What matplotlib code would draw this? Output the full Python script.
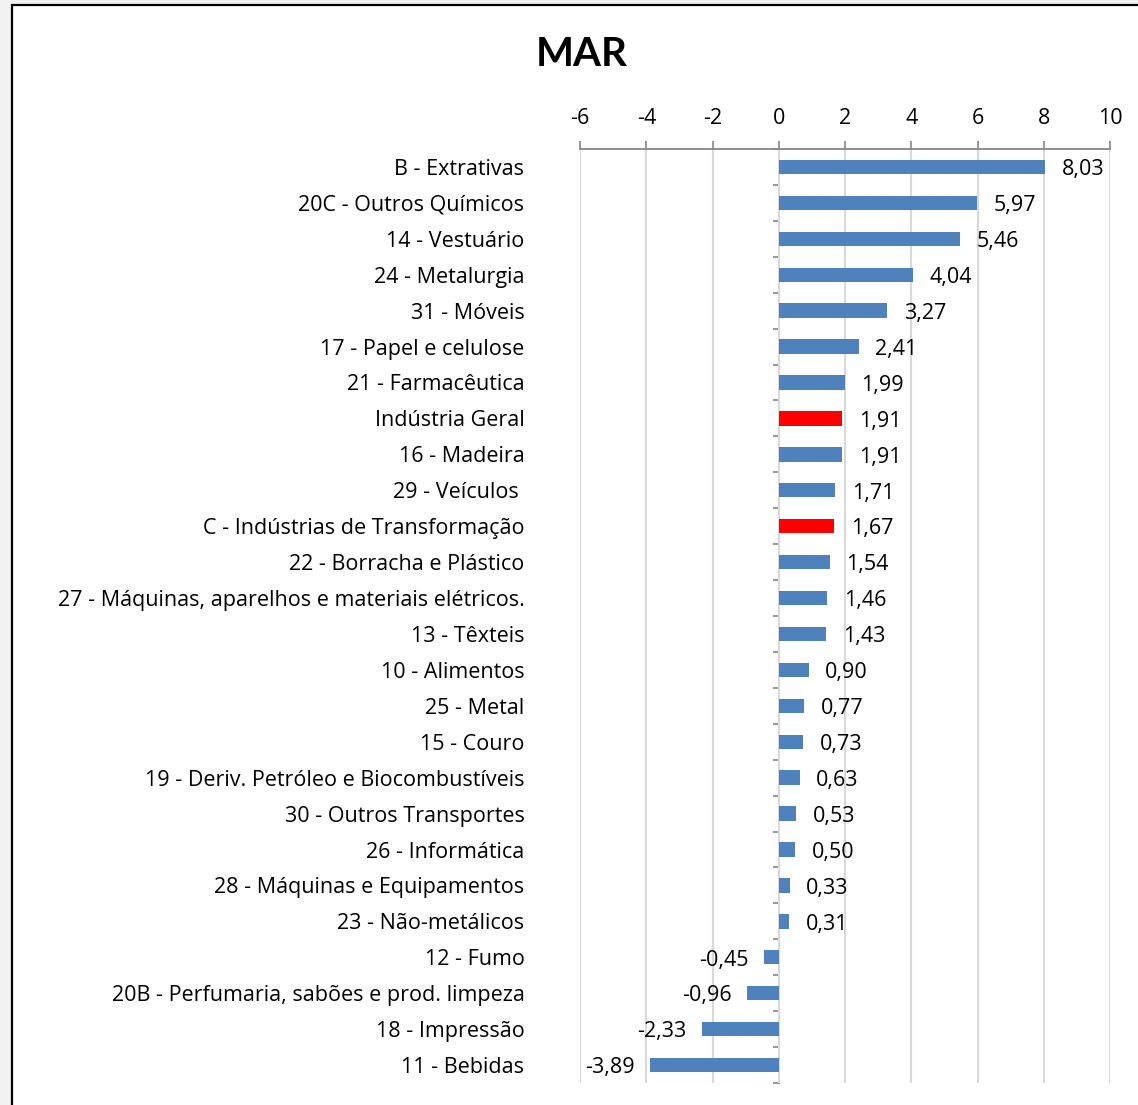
import numpy as np
import matplotlib
matplotlib.use("Agg")
import matplotlib.pyplot as plt
from matplotlib.patches import Rectangle

plt.rcParams['font.family'] = ['Open Sans', 'DejaVu Sans']

title = "MAR"
categories = [
    "B - Extrativas",
    "20C - Outros Químicos",
    "14 - Vestuário",
    "24 - Metalurgia",
    "31 - Móveis",
    "17 - Papel e celulose",
    "21 - Farmacêutica",
    "Indústria Geral",
    "16 - Madeira",
    "29 - Veículos ",
    "C - Indústrias de Transformação",
    "22 - Borracha e Plástico",
    "27 - Máquinas, aparelhos e materiais elétricos.",
    "13 - Têxteis",
    "10 - Alimentos",
    "25 - Metal",
    "15 - Couro",
    "19 - Deriv. Petróleo e Biocombustíveis",
    "30 - Outros Transportes",
    "26 - Informática",
    "28 - Máquinas e Equipamentos",
    "23 - Não-metálicos",
    "12 - Fumo",
    "20B - Perfumaria, sabões e prod. limpeza",
    "18 - Impressão",
    "11 - Bebidas",
]
values = [8.03, 5.97, 5.46, 4.04, 3.27, 2.41, 1.99, 1.91, 1.91, 1.71, 1.67,
          1.54, 1.46, 1.43, 0.90, 0.77, 0.73, 0.63, 0.53, 0.50, 0.33, 0.31,
          -0.45, -0.96, -2.33, -3.89]
highlight = ["Indústria Geral", "C - Indústrias de Transformação"]
xticks = [-6, -4, -2, 0, 2, 4, 6, 8, 10]

BLUE = "#4f81bd"
RED = "#ff0000"
GRAY = "#868686"
GRID = "#d9d9d9"
FS = 15.5

W, H = 1138, 1105
fig = plt.figure(figsize=(W / 100, H / 100), dpi=100)
fig.patch.set_facecolor("#f2f2f2")
fig.add_artist(Rectangle((11.5 / W, -0.05), 1.2, 1.05 - 4.5 / H,
                         transform=fig.transFigure, facecolor="white",
                         edgecolor="black", linewidth=1.6, zorder=0))

ax = fig.add_axes([580 / W, 1 - 1083 / H, 530 / W, (1083 - 149) / H])
ax.set_facecolor("none")

n = len(categories)
y = np.arange(n)
colors = [RED if c in highlight else BLUE for c in categories]
ax.barh(y, values, height=0.4, color=colors, zorder=3)

ax.set_xlim(-6, 10)
ax.set_ylim(n - 0.5, -0.5)
ax.set_xticks(xticks)
ax.set_xticklabels([str(t) for t in xticks])
ax.xaxis.tick_top()
ax.tick_params(axis='x', which='both', direction='out', length=5.5, width=1.2,
               color=GRAY, labelsize=FS, pad=9, labelcolor="black")
ax.set_yticks(y)
ax.set_yticklabels(categories)
ax.tick_params(axis='y', length=0, pad=40, labelsize=FS)

for s in ['left', 'right', 'bottom']:
    ax.spines[s].set_visible(False)
ax.spines['top'].set_color(GRAY)
ax.spines['top'].set_linewidth(1.3)

ax.grid(axis='x', color=GRID, linewidth=1.5, zorder=0)
ax.set_axisbelow(True)

# vertical category axis at x = 0
sec = ax.secondary_yaxis((0 - (-6)) / 16)
sec.set_alignment('left')
sec.set_yticks(np.arange(-0.5, n, 1.0))
sec.set_yticklabels([])
sec.tick_params(axis='y', direction='out', length=4.5, width=1.2, color=GRAY)
sec.spines['left'].set_color(GRAY)
sec.spines['left'].set_linewidth(1.3)

for yi, v in zip(y, values):
    lab = f"{v:.2f}".replace(".", ",")
    if v >= 0:
        ax.annotate(lab, (v, yi), xytext=(12, -2), textcoords="offset points",
                    ha="left", va="center", fontsize=FS, zorder=4)
    else:
        ax.annotate(lab, (v, yi), xytext=(-11, -2), textcoords="offset points",
                    ha="right", va="center", fontsize=FS, zorder=4)

fig.text(582 / W, 1 - 54 / H, title, ha="center", va="center",
         fontsize=29, fontweight="bold", family=['Lato', 'DejaVu Sans'])

fig.savefig("out.png", dpi=100, facecolor=fig.get_facecolor())
